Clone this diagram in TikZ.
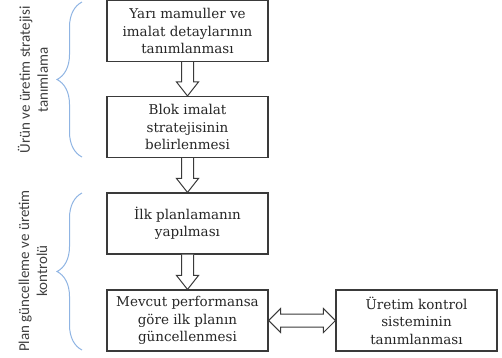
\documentclass[tikz,border=0pt]{standalone}
\usepackage{fontspec}
\usepackage{xcolor}
\usetikzlibrary{calc,decorations.pathreplacing}
\setmainfont{DejaVu Serif}
\newfontfamily\sidefont{Carlito}
\definecolor{FlowLine}{HTML}{3A3A3A}
\definecolor{FlowText}{HTML}{262626}
\definecolor{BraceBlue}{HTML}{8FB4E3}
\definecolor{SideText}{HTML}{3F3F3F}

\tikzset{
  stepbox/.style={draw=FlowLine,line width=1.1pt,minimum width=161pt,minimum height=61pt,
    align=center,text=FlowText,inner sep=2pt,font=\fontsize{13.5}{17.5}\selectfont},
  blockarrow/.style={draw=FlowLine,line width=1pt,fill=white,line join=miter},
  bracket/.style={draw=BraceBlue,line width=1pt,decorate,decoration={brace,amplitude=25pt}},
  sidelabel/.style={rotate=90,align=center,text=SideText,font=\sidefont\fontsize{15}{18}\selectfont}
}

\begin{document}
\begin{tikzpicture}[x=1pt,y=-1pt]
\path[use as bounding box] (0,0) rectangle (502,357);
% process steps
\node[stepbox] (tanim) at (187.5,31) {Yarı mamuller ve\\imalat detaylarının\\tanımlanması};
\node[stepbox] (blok) at (187.5,127) {Blok imalat\\stratejisinin\\belirlenmesi};
\node[stepbox] (ilk) at (187.5,223.5) {İlk planlamanın\\yapılması};
\node[stepbox] (guncel) at (187.5,320.5) {Mevcut performansa\\göre ilk planın\\güncellenmesi};
\node[stepbox] (kontrol) at (416.5,320.5) {Üretim kontrol\\sisteminin\\tanımlanması};
% hollow arrows
\foreach \u/\v in {tanim/blok,blok/ilk,ilk/guncel}
  \draw[blockarrow] ($(\u.south)+(-6,0)$) -- ($(\v.north)+(-6,-14)$) -- ($(\v.north)+(-11,-14)$)
    -- (\v.north) -- ($(\v.north)+(11,-14)$) -- ($(\v.north)+(6,-14)$) -- ($(\u.south)+(6,0)$);
\draw[blockarrow] (guncel.east) -- ++(12,-12) -- ++(0,5.5) -- ($(kontrol.west)+(-12,-6.5)$) -- ++(0,-5.5)
  -- (kontrol.west) -- ++(-12,12) -- ++(0,-5.5) -- ($(guncel.east)+(12,6.5)$) -- ++(0,5.5) -- cycle;
% phase braces
\coordinate (ph1a) at (82,157);
\coordinate (ph1b) at (82,2);
\coordinate (ph2a) at (82,350);
\coordinate (ph2b) at (82,193);
\draw[bracket] (ph1a) -- (ph1b);
\draw[bracket] (ph2a) -- (ph2b);
\node[sidelabel] (faz1) at (33,80) {Ürün ve üretim stratejisi\\tanımlama};
\node[sidelabel] (faz2) at (33,271) {Plan güncelleme ve üretim\\kontrolü};
\end{tikzpicture}
\end{document}
